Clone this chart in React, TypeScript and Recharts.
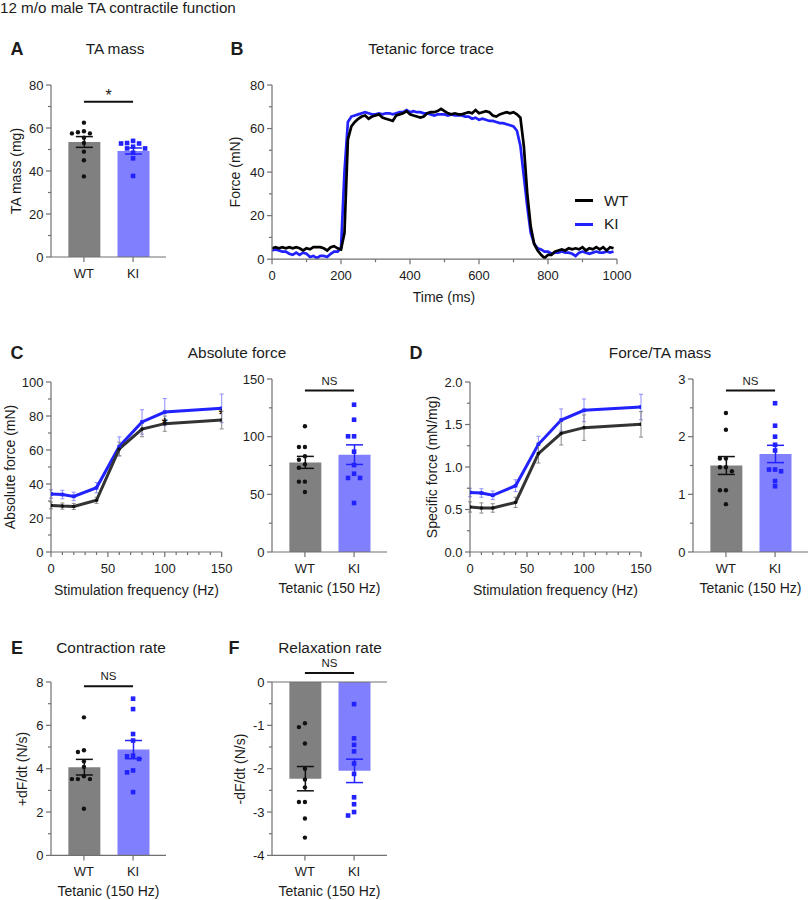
import React from "react";
import {
  ComposedChart,
  Line,
  Bar,
  Cell,
  Scatter,
  XAxis,
  YAxis,
  ErrorBar,
  ReferenceLine,
} from "recharts";

const FONT = '"Liberation Sans", Arial, Helvetica, sans-serif';
const INK = "#1c1c1c";
const AXIS = "#707070";
const BLUE = "#2222ff";
const BLUE_ERR = "#8d8dff";
const BLUE_BAR = "#8080ff";
const GRAY_BAR = "#808080";
const DARK_LINE = "#333333";

const groups = ["WT", "KI"];

// B: tetanic force trace (mN), one sample every 10 ms
const SAMPLE_MS = 10;
const traceWT = [
  5, 5.5, 5, 5.5, 5, 5.5, 5, 5.5, 5, 4,
  5, 4.5, 5.5, 5.5, 5.5, 5, 4, 5.5, 6, 5,
  4.5, 12, 55, 61, 63, 64.5, 65.5, 66, 64.5, 65.5,
  66, 66.5, 65, 64.5, 64, 63.5, 66, 66.5, 67, 68,
  66.5, 66, 65.5, 65, 65.5, 67, 67.5, 67.5, 68, 69,
  68, 67, 66.5, 67, 66.5, 66.5, 67, 67.5, 67, 68.5,
  67, 67.5, 68, 67.5, 66, 65.5, 66.5, 67, 67.5, 67,
  67.5, 66.5, 65, 52, 30, 15, 7, 4, 2, 0.5,
  2, 2, 3.5, 4, 4.5, 4, 5, 4.5, 5, 4.5,
  5.5, 4, 5, 4.5, 5.5, 4.5, 5.5, 4, 5.5, 5,
];
const traceKI = [
  4, 4.5, 4, 3.5, 3.5, 2.5, 2, 3, 2, 3,
  2.5, 1, 1.5, 0.5, 1.5, 1.5, 1, 2.5, 3.5, 3.5,
  5, 40, 63, 65.5, 66, 66.5, 67, 67.5, 67, 66.5,
  66.5, 67, 66.5, 67, 67, 66.5, 67, 67.5, 67.5, 68.5,
  67.5, 68, 67.5, 67.5, 67, 67, 66.5, 66, 66.5, 66.5,
  66.5, 66, 66.5, 66, 66, 66, 65.5, 65.5, 64.5, 65,
  64, 64.5, 64, 63.5, 63.5, 63, 62.5, 62.5, 62, 61.5,
  61, 59, 52, 38, 24, 12, 7, 5, 4.5, 3.5,
  3.5, 2.5, 3, 3, 3.5, 3, 3, 2.5, 1.5, 3,
  3.5, 3, 2.5, 3, 3.5, 3, 3, 3.5, 3, 3.5,
];
const traceTimeTicks = [0, 200, 400, 600, 800, 1000];
const forceTicks = [0, 20, 40, 60, 80];

// A: TA mass (mg)
const massWT = [62.5, 58, 57.5, 57.5, 58.5, 55.5, 53, 49, 45, 37.5];
const massKI = [54, 53, 52.8, 52.8, 51.3, 50.5, 50.5, 48.5, 45.9, 37.7];
const massMean = [53.5, 49.3];
const massSem = [2.5, 1.4];
const massTicks = [0, 20, 40, 60, 80];

// C / D: force-frequency curves
const freqs = [0, 10, 20, 40, 60, 80, 100, 150];
const freqTicks = [0, 50, 100, 150];
const absWT = [27.4, 27, 26.8, 30.4, 60.6, 72.3, 75.5, 77.6];
const absWTsem = [2, 1.8, 1.8, 1.8, 4, 4.5, 4.5, 5.2];
const absKI = [34.1, 33.8, 32.7, 37.8, 62.1, 76.5, 82.3, 84.5];
const absKIsem = [2.5, 2.5, 2.5, 3, 5.6, 7.2, 8, 8.4];
const absStars = [
  { f: 100, y: 77.4 },
  { f: 150, y: 82.7 },
];
const absTicks = [0, 20, 40, 60, 80, 100];

const specWT = [0.53, 0.518, 0.518, 0.584, 1.157, 1.396, 1.463, 1.502];
const specWTsem = [0.06, 0.06, 0.05, 0.06, 0.11, 0.137, 0.15, 0.15];
const specKI = [0.7, 0.694, 0.667, 0.78, 1.267, 1.553, 1.667, 1.706];
const specKIsem = [0.05, 0.05, 0.05, 0.07, 0.095, 0.13, 0.133, 0.15];
const specTicks = [0, 0.5, 1, 1.5, 2];

// C / D right: tetanic force at 150 Hz
const absTetWT = [109, 91, 91, 83, 80, 76, 73, 61, 61, 52];
const absTetKI = [127.7, 114.7, 100.3, 100.3, 87, 75.4, 67.9, 64.2, 64.2, 42.5];
const absTetMean = [77.7, 84.4];
const absTetSem = [5.2, 8.5];
const absTetTicks = [0, 50, 100, 150];

const specTetWT = [2.41, 2.12, 1.62, 1.62, 1.47, 1.47, 1.4, 1.07, 1.07, 0.83];
const specTetKI = [2.58, 2.19, 2.0, 1.86, 1.76, 1.43, 1.43, 1.4, 1.23, 1.14];
const specTetMean = [1.5, 1.7];
const specTetSem = [0.155, 0.15];
const specTetTicks = [0, 1, 2, 3];

// E / F: contraction and relaxation rates (N/s)
const contrWT = [6.37, 4.85, 4.77, 4.34, 4.08, 3.65, 3.52, 3.52, 3.52, 2.15];
const contrKI = [7.23, 6.75, 5.6, 5.3, 4.6, 4.57, 4.45, 3.92, 3.83, 2.92];
const contrMean = [4.07, 4.88];
const contrSem = [0.36, 0.42];
const contrTicks = [0, 2, 4, 6, 8];

const relaxWT = [-0.95, -1.04, -1.42, -2.0, -2.25, -2.43, -2.77, -2.77, -3.15, -3.59];
const relaxKI = [-0.51, -1.3, -1.45, -1.6, -1.88, -2.12, -2.66, -2.82, -3.0, -3.08];
const relaxMean = [-2.23, -2.05];
const relaxSem = [0.28, 0.27];
const relaxTicks = [-4, -3, -2, -1, 0];

// ---- layout helpers
const PADL = 50;
const PADR = 22;
const PADT = 28;
const PADB = 40;
const X_DOMAIN: [number, number] = [0.33, 2.67];
type Box = [number, number, number, number];

function frameOf([x0, y0, x1, y1]: Box) {
  return {
    pos: { position: "absolute" as const, left: x0 - PADL, top: y0 - PADT },
    width: x1 - x0 + PADL + PADR,
    height: y1 - y0 + PADT + PADB,
    margin: { top: PADT, right: PADR, bottom: 0, left: 0 },
    plotH: y1 - y0,
    plotW: x1 - x0,
  };
}

function withMinor(major: number[], n: number) {
  const out: number[] = [];
  major.forEach((v, i) => {
    out.push(v);
    const next = major[i + 1];
    if (next === undefined) return;
    for (let k = 1; k <= n; k++) out.push(v + ((next - v) * k) / (n + 1));
  });
  return out;
}

const isIn = (v: number, arr: number[]) => arr.some((m) => Math.abs(m - v) < 1e-6);

function makeYTick(major: number[], fmt: (v: number) => string) {
  return (p: any) => {
    const v = p.payload.value;
    const big = isIn(v, major);
    return (
      <g>
        <line x1={PADL - (big ? 5 : 3)} x2={PADL} y1={p.y} y2={p.y} stroke={AXIS} strokeWidth={1.2} />
        {big && (
          <text x={PADL - 7.5} y={p.y} dy={4.6} textAnchor="end" fontSize={13} fill={INK} fontFamily={FONT}>
            {fmt(v)}
          </text>
        )}
      </g>
    );
  };
}

function makeXTick(axisY: number, isMajor: (v: any) => boolean, label: (v: any) => string) {
  return (p: any) => {
    const v = p.payload.value;
    const big = isMajor(v);
    return (
      <g>
        <line x1={p.x} x2={p.x} y1={axisY} y2={axisY + (big ? 5 : 3)} stroke={AXIS} strokeWidth={1.2} />
        {big && (
          <text x={p.x} y={axisY + 21} textAnchor="middle" fontSize={13} fill={INK} fontFamily={FONT}>
            {label(v)}
          </text>
        )}
      </g>
    );
  };
}

// spread points of similar value sideways so they don't overlap (offsets in px)
function swarm(vals: number[], pxY: number, step = 6, gap = 5) {
  const order = vals.map((_, i) => i).sort((a, b) => vals[b] - vals[a]);
  const placed: [number, number][] = [];
  const off = vals.map(() => 0);
  for (const i of order) {
    const y = vals[i] * pxY;
    for (let k = 0; k < 15; k++) {
      const dx = k === 0 ? 0 : (k % 2 ? -1 : 1) * Math.ceil(k / 2) * step;
      if (placed.every(([px, py]) => Math.hypot(px - dx, py - y) >= gap)) {
        off[i] = dx;
        placed.push([dx, y]);
        break;
      }
    }
  }
  return off;
}

const axisLine = { stroke: AXIS, strokeWidth: 1.2 };
const int = (v: number) => String(v);
const oneDec = (v: number) => v.toFixed(1);

type BarPanelProps = {
  box: Box;
  yMajor: number[];
  yMinorN: number;
  fmt: (v: number) => string;
  wt: number[];
  ki: number[];
  mean: number[];
  sem: number[];
  sig: string;
  sigY: number;
  sigSize: number;
  sigOffset: number;
  zeroLine?: boolean;
};

function BarPanel(props: BarPanelProps) {
  const { box, yMajor, yMinorN, fmt, wt, ki, mean, sem, sig, sigY, sigSize, sigOffset, zeroLine } = props;
  const f = frameOf(box);
  const yMin = yMajor[0];
  const yMax = yMajor[yMajor.length - 1];
  const pxY = f.plotH / (yMax - yMin);
  const pxX = f.plotW / (X_DOMAIN[1] - X_DOMAIN[0]);
  // category padding so the two bands line up with x = 1 and x = 2 on the dot axis
  const pad = (f.plotW - 2 * pxX) / 2;
  const spread = (vals: number[], g: number) => {
    const off = swarm(vals, pxY);
    return vals.map((y, i) => ({ x: g + off[i] / pxX, y }));
  };
  const bars = [
    { g: groups[0], mean: mean[0], errWT: sem[0] },
    { g: groups[1], mean: mean[1], errKI: sem[1] },
  ];
  return (
    <div style={f.pos}>
      <ComposedChart width={f.width} height={f.height} margin={f.margin} data={bars}>
        <XAxis
          dataKey="g"
          type="category"
          padding={{ left: pad, right: pad }}
          interval={0}
          height={PADB}
          axisLine={axisLine}
          tickLine={false}
          tick={makeXTick(PADT + f.plotH, () => true, (v) => String(v))}
        />
        <XAxis xAxisId="dots" type="number" dataKey="x" domain={X_DOMAIN} allowDataOverflow hide />
        <YAxis
          type="number"
          domain={[yMin, yMax]}
          allowDataOverflow
          ticks={withMinor(yMajor, yMinorN)}
          interval={0}
          width={PADL}
          axisLine={axisLine}
          tickLine={false}
          tick={makeYTick(yMajor, fmt)}
        />
        {zeroLine && <ReferenceLine y={0} stroke={AXIS} strokeWidth={1.2} />}
        <Bar dataKey="mean" barSize={32} isAnimationActive={false}>
          {bars.map((_, i) => (
            <Cell key={i} fill={i ? BLUE_BAR : GRAY_BAR} />
          ))}
          <ErrorBar dataKey="errWT" width={8.5} stroke="#111" strokeWidth={1.5} />
          <ErrorBar dataKey="errKI" width={8.5} stroke={BLUE} strokeWidth={1.5} />
        </Bar>
        <Scatter
          xAxisId="dots"
          data={spread(wt, 1)}
          dataKey="y"
          isAnimationActive={false}
          shape={(p: any) => <circle cx={p.cx} cy={p.cy} r={2.2} fill="#111" />}
        />
        <Scatter
          xAxisId="dots"
          data={spread(ki, 2)}
          dataKey="y"
          isAnimationActive={false}
          shape={(p: any) => <rect x={p.cx - 2.3} y={p.cy - 2.3} width={4.6} height={4.6} fill={BLUE} />}
        />
        <ReferenceLine
          xAxisId="dots"
          segment={[
            { x: 1, y: sigY },
            { x: 2, y: sigY },
          ]}
          stroke="#111"
          strokeWidth={2}
          ifOverflow="visible"
          label={{ value: sig, position: "top", offset: sigOffset, fontSize: sigSize, fill: INK, fontFamily: FONT }}
        />
      </ComposedChart>
    </div>
  );
}

type CurvePanelProps = {
  box: Box;
  yMajor: number[];
  yMinorN: number;
  fmt: (v: number) => string;
  wt: number[];
  wtSem: number[];
  ki: number[];
  kiSem: number[];
  stars?: { f: number; y: number }[];
};

function CurvePanel({ box, yMajor, yMinorN, fmt, wt, wtSem, ki, kiSem, stars }: CurvePanelProps) {
  const f = frameOf(box);
  const rows = freqs.map((fr, i) => ({ f: fr, wt: wt[i], wtErr: wtSem[i], ki: ki[i], kiErr: kiSem[i] }));
  return (
    <div style={f.pos}>
      <ComposedChart width={f.width} height={f.height} margin={f.margin} data={rows}>
        <XAxis
          type="number"
          dataKey="f"
          domain={[0, 150]}
          allowDataOverflow
          ticks={withMinor(freqTicks, 4)}
          interval={0}
          height={PADB}
          axisLine={axisLine}
          tickLine={false}
          tick={makeXTick(PADT + f.plotH, (v) => isIn(v, freqTicks), int)}
        />
        <YAxis
          type="number"
          domain={[yMajor[0], yMajor[yMajor.length - 1]]}
          allowDataOverflow
          ticks={withMinor(yMajor, yMinorN)}
          interval={0}
          width={PADL}
          axisLine={axisLine}
          tickLine={false}
          tick={makeYTick(yMajor, fmt)}
        />
        <Line
          dataKey="ki"
          type="linear"
          stroke={BLUE}
          strokeWidth={3}
          isAnimationActive={false}
          dot={(p: any) => <rect key={p.index} x={p.cx - 1.8} y={p.cy - 1.8} width={3.6} height={3.6} fill={BLUE} />}
        >
          <ErrorBar dataKey="kiErr" width={2} stroke={BLUE_ERR} strokeWidth={1} />
        </Line>
        <Line
          dataKey="wt"
          type="linear"
          stroke={DARK_LINE}
          strokeWidth={3}
          isAnimationActive={false}
          dot={(p: any) => <circle key={p.index} cx={p.cx} cy={p.cy} r={1.8} fill="#111" />}
        >
          <ErrorBar dataKey="wtErr" width={2} stroke="#8a8a8a" strokeWidth={1} />
        </Line>
        {stars && (
          <Scatter
            data={stars}
            dataKey="y"
            isAnimationActive={false}
            shape={(p: any) => (
              <text x={p.cx} y={p.cy + 8} textAnchor="middle" fontSize={15} fontWeight={700} fill="#111" fontFamily={FONT}>
                *
              </text>
            )}
          />
        )}
      </ComposedChart>
    </div>
  );
}

function TracePanel({ box }: { box: Box }) {
  const f = frameOf(box);
  const rows = traceWT.map((wt, i) => ({ t: i * SAMPLE_MS, wt, ki: traceKI[i] }));
  return (
    <div style={f.pos}>
      <ComposedChart width={f.width} height={f.height} margin={f.margin} data={rows}>
        <XAxis
          type="number"
          dataKey="t"
          domain={[0, 1000]}
          allowDataOverflow
          ticks={withMinor(traceTimeTicks, 1)}
          interval={0}
          height={PADB}
          axisLine={axisLine}
          tickLine={false}
          tick={makeXTick(PADT + f.plotH, (v) => isIn(v, traceTimeTicks), int)}
        />
        <YAxis
          type="number"
          domain={[0, 80]}
          allowDataOverflow
          ticks={withMinor(forceTicks, 1)}
          interval={0}
          width={PADL}
          axisLine={axisLine}
          tickLine={false}
          tick={makeYTick(forceTicks, int)}
        />
        <Line dataKey="ki" type="linear" stroke={BLUE} strokeWidth={2.7} dot={false} isAnimationActive={false} />
        <Line dataKey="wt" type="linear" stroke="#000" strokeWidth={2.7} dot={false} isAnimationActive={false} />
      </ComposedChart>
    </div>
  );
}

type TxtProps = {
  x: number;
  y: number;
  size?: number;
  bold?: boolean;
  rot?: boolean;
  left?: boolean;
  children: React.ReactNode;
};

function Txt({ x, y, size = 14, bold = false, rot = false, left = false, children }: TxtProps) {
  return (
    <div
      style={{
        position: "absolute",
        left: x,
        top: y,
        transform: `translate(${left ? "0" : "-50%"}, -50%)${rot ? " rotate(-90deg)" : ""}`,
        fontSize: size,
        fontWeight: bold ? 700 : 400,
        lineHeight: 1,
        whiteSpace: "nowrap",
        color: INK,
      }}
    >
      {children}
    </div>
  );
}

function LegendKey({ x, y, color, label }: { x: number; y: number; color: string; label: string }) {
  return (
    <>
      <div style={{ position: "absolute", left: x, top: y - 1.5, width: 18, height: 3, background: color }} />
      <Txt x={x + 29} y={y} size={15.5} left>
        {label}
      </Txt>
    </>
  );
}

export default function App() {
  return (
    <div
      style={{
        position: "absolute",
        left: 0,
        top: 0,
        width: 809,
        height: 900,
        overflow: "hidden",
        background: "#fff",
        fontFamily: FONT,
      }}
    >
      <Txt x={0} y={8} size={15.2} left>
        12 m/o male TA contractile function
      </Txt>

      {/* A */}
      <Txt x={17} y={48.5} size={18} bold>A</Txt>
      <Txt x={115} y={48.5} size={15.4}>TA mass</Txt>
      <Txt x={15.5} y={171} size={14} rot>TA mass (mg)</Txt>
      <BarPanel
        box={[51, 85, 166, 257]}
        yMajor={massTicks}
        yMinorN={1}
        fmt={int}
        wt={massWT}
        ki={massKI}
        mean={massMean}
        sem={massSem}
        sig="*"
        sigY={72.2}
        sigSize={16}
        sigOffset={1}
      />

      {/* B */}
      <Txt x={237} y={48.5} size={18} bold>B</Txt>
      <Txt x={431} y={48.5} size={15.4}>Tetanic force trace</Txt>
      <Txt x={234.5} y={171.5} size={14} rot>Force (mN)</Txt>
      <Txt x={444} y={297} size={14}>Time (ms)</Txt>
      <TracePanel box={[272, 84.5, 617, 258.7]} />
      <LegendKey x={575} y={200.5} color="#000" label="WT" />
      <LegendKey x={575} y={224} color={BLUE} label="KI" />

      {/* C */}
      <Txt x={17} y={353} size={18} bold>C</Txt>
      <Txt x={237} y={353} size={15.4}>Absolute force</Txt>
      <Txt x={10} y={467} size={14} rot>Absolute force (mN)</Txt>
      <Txt x={136.5} y={590} size={14}>Stimulation frequency (Hz)</Txt>
      <CurvePanel
        box={[51, 382.3, 221.7, 552.3]}
        yMajor={absTicks}
        yMinorN={1}
        fmt={int}
        wt={absWT}
        wtSem={absWTsem}
        ki={absKI}
        kiSem={absKIsem}
        stars={absStars}
      />
      <Txt x={329.5} y={588} size={14}>Tetanic (150 Hz)</Txt>
      <BarPanel
        box={[272, 379.3, 387, 552.3]}
        yMajor={absTetTicks}
        yMinorN={1}
        fmt={int}
        wt={absTetWT}
        ki={absTetKI}
        mean={absTetMean}
        sem={absTetSem}
        sig="NS"
        sigY={140}
        sigSize={11.5}
        sigOffset={6}
      />

      {/* D */}
      <Txt x={416} y={353} size={18} bold>D</Txt>
      <Txt x={660} y={353} size={15.4}>Force/TA mass</Txt>
      <Txt x={431.5} y={467} size={14} rot>Specific force (mN/mg)</Txt>
      <Txt x={555.5} y={590} size={14}>Stimulation frequency (Hz)</Txt>
      <CurvePanel
        box={[470, 382.3, 641, 552.3]}
        yMajor={specTicks}
        yMinorN={1}
        fmt={oneDec}
        wt={specWT}
        wtSem={specWTsem}
        ki={specKI}
        kiSem={specKIsem}
      />
      <Txt x={750.5} y={588} size={14}>Tetanic (150 Hz)</Txt>
      <BarPanel
        box={[693.3, 379.3, 808.3, 552.3]}
        yMajor={specTetTicks}
        yMinorN={1}
        fmt={int}
        wt={specTetWT}
        ki={specTetKI}
        mean={specTetMean}
        sem={specTetSem}
        sig="NS"
        sigY={2.8}
        sigSize={11.5}
        sigOffset={6}
      />

      {/* E */}
      <Txt x={17} y={648} size={18} bold>E</Txt>
      <Txt x={111} y={648} size={15.4}>Contraction rate</Txt>
      <Txt x={21.5} y={769} size={14} rot>+dF/dt (N/s)</Txt>
      <Txt x={108.5} y={890.5} size={14}>Tetanic (150 Hz)</Txt>
      <BarPanel
        box={[51, 682.3, 166, 855.7]}
        yMajor={contrTicks}
        yMinorN={1}
        fmt={int}
        wt={contrWT}
        ki={contrKI}
        mean={contrMean}
        sem={contrSem}
        sig="NS"
        sigY={7.8}
        sigSize={11.5}
        sigOffset={6}
      />

      {/* F */}
      <Txt x={234} y={647.5} size={18} bold>F</Txt>
      <Txt x={330} y={648} size={15.4}>Relaxation rate</Txt>
      <Txt x={240} y={769} size={14} rot>-dF/dt (N/s)</Txt>
      <Txt x={329.5} y={890.5} size={14}>Tetanic (150 Hz)</Txt>
      <BarPanel
        box={[272, 682.3, 387, 855.7]}
        yMajor={relaxTicks}
        yMinorN={1}
        fmt={int}
        wt={relaxWT}
        ki={relaxKI}
        mean={relaxMean}
        sem={relaxSem}
        sig="NS"
        sigY={0.21}
        sigSize={11.5}
        sigOffset={6}
        zeroLine
      />
    </div>
  );
}
